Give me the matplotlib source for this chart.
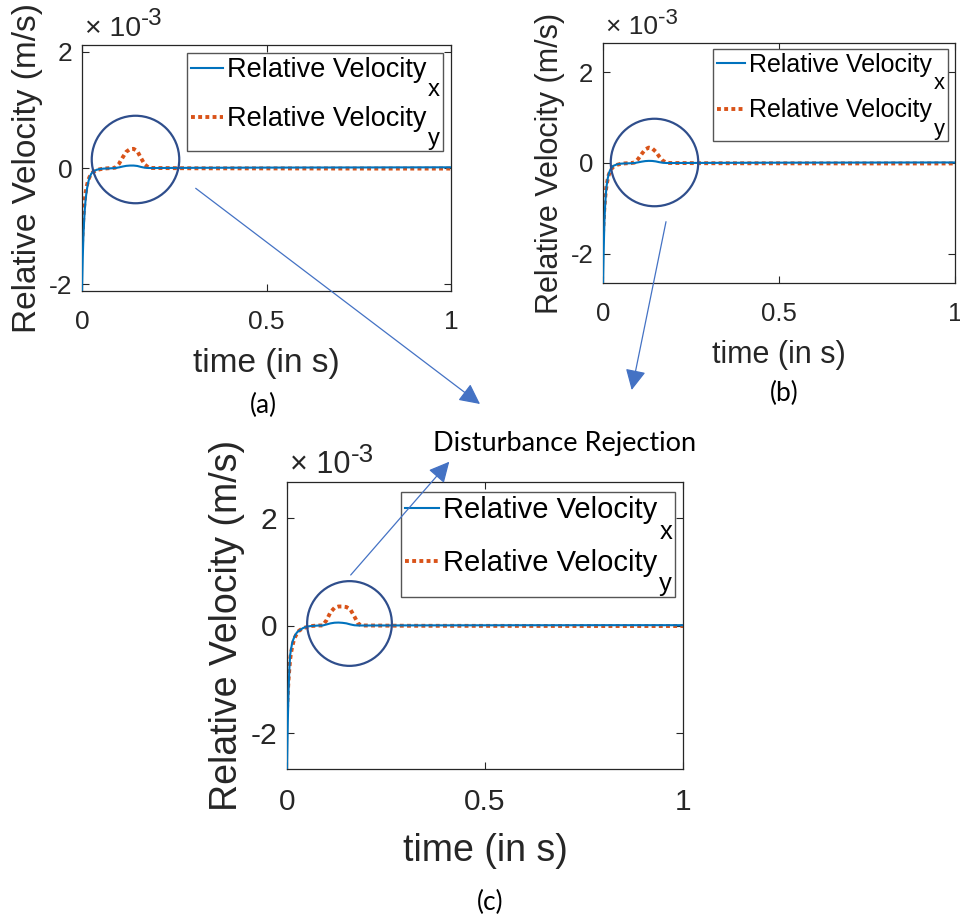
import matplotlib
matplotlib.use("Agg")
import matplotlib.pyplot as plt
from matplotlib.patches import FancyArrowPatch, Rectangle
from matplotlib.transforms import Bbox

plt.rcParams['font.family'] = ['Liberation Sans', 'DejaVu Sans']
plt.rcParams['axes.unicode_minus'] = False

# ---------------- data (velocity in units of 1e-3 m/s) ----------------
time_s = [0, 0.002, 0.004, 0.006, 0.008, 0.01, 0.013, 0.016, 0.02, 0.025, 0.03,
          0.04, 0.05, 0.06, 0.08, 0.09, 0.1, 0.11, 0.12, 0.13, 0.14, 0.15, 0.16,
          0.17, 0.18, 0.19, 0.2, 0.3, 0.4, 0.5, 0.6, 0.7, 0.8, 0.9, 1.0]

vx_a = [-2.10, -1.55, -1.15, -0.88, -0.68, -0.53, -0.38, -0.27, -0.17, -0.10, -0.06,
        -0.03, -0.015, -0.01, -0.005, 0.0, 0.01, 0.025, 0.037, 0.042, 0.042, 0.035, 0.018,
        0.005, 0.0, 0.0, 0.0, 0.003, 0.005, 0.007, 0.008, 0.009, 0.010, 0.011, 0.012]
vy_a = [-1.30, -1.05, -0.82, -0.65, -0.52, -0.42, -0.31, -0.23, -0.16, -0.10, -0.07,
        -0.035, -0.02, -0.01, 0.0, 0.005, 0.07, 0.18, 0.28, 0.325, 0.33, 0.29, 0.17,
        0.06, 0.01, 0.0, 0.0, -0.005, -0.006, -0.007, -0.008, -0.009, -0.01, -0.01, -0.01]

vx_b = [-2.65, -1.90, -1.30, -0.95, -0.70, -0.52, -0.36, -0.25, -0.16, -0.10, -0.06,
        -0.03, -0.015, -0.01, -0.005, 0.0, 0.015, 0.03, 0.042, 0.047, 0.045, 0.035, 0.018,
        0.005, 0.0, 0.0, 0.0, 0.003, 0.005, 0.007, 0.008, 0.009, 0.010, 0.011, 0.012]
vy_b = [-1.55, -1.25, -0.98, -0.78, -0.62, -0.50, -0.37, -0.27, -0.19, -0.12, -0.08,
        -0.04, -0.02, -0.01, 0.0, 0.01, 0.09, 0.20, 0.30, 0.34, 0.32, 0.25, 0.14,
        0.05, 0.01, 0.0, 0.0, -0.005, -0.006, -0.007, -0.008, -0.009, -0.01, -0.01, -0.01]

vx_c = [-2.68, -1.80, -1.20, -0.80, -0.55, -0.45, -0.33, -0.26, -0.19, -0.13, -0.10,
        -0.05, -0.02, -0.01, 0.0, 0.0, 0.02, 0.04, 0.052, 0.055, 0.05, 0.04, 0.02,
        0.005, 0.0, 0.0, 0.0, 0.002, 0.003, 0.004, 0.005, 0.005, 0.006, 0.006, 0.006]
vy_c = [-1.56, -1.25, -1.00, -0.80, -0.63, -0.52, -0.40, -0.31, -0.22, -0.15, -0.10,
        -0.05, -0.03, -0.01, 0.0, 0.0, 0.10, 0.25, 0.33, 0.355, 0.355, 0.345, 0.30,
        0.17, 0.03, 0.0, 0.0, -0.005, -0.006, -0.007, -0.008, -0.009, -0.01, -0.01, -0.01]

x_ticks = [0, 0.5, 1]
x_ticklabels = ['0', '0.5', '1']
y_ticks = [-2, 0, 2]
y_ticklabels = ['-2', '0', '2']
series_names = ['Relative Velocity', 'Relative Velocity']
series_subs = ['x', 'y']
x_label = 'time (in s)'
y_label = 'Relative Velocity (m/s)'
exp_base = '× 10'
exp_power = '-3'
captions = ['(a)', '(b)', '(c)']
callout = 'Disturbance Rejection'

BLUE = '#0072BD'
ORANGE = '#D95319'
DARK = '#262626'
CIRC = '#2F4E8C'
ARROW = '#4472C4'

W, H = 960, 924
fig = plt.figure(figsize=(W / 100, H / 100), dpi=100)


def fr(px, py):
    return px / W, 1 - py / H


panels = []


def make_panel(rect_px, vx, vy, ylim, fs_tick, fs_lab, fs_leg, fs_exp, circ, ms,
               leg_gap, xlab_pad, ylab_pad):
    l, t, r, b = rect_px
    w_px, h_px = r - l, b - t
    ax = fig.add_axes([l / W, 1 - b / H, w_px / W, h_px / H])
    ax.plot(time_s, vx, color=BLUE, lw=1.5, zorder=3, label=series_names[0])
    ax.plot(time_s, vy, color=ORANGE, lw=2.8, ls=(0, (1, 0.85)), zorder=2,
            label=series_names[1])
    ax.set_xlim(0, 1)
    ax.set_ylim(*ylim)
    ax.set_xticks(x_ticks)
    ax.set_xticklabels(x_ticklabels)
    ax.set_yticks(y_ticks)
    ax.set_yticklabels(y_ticklabels)
    ax.tick_params(direction='in', top=True, right=True, length=5, width=0.8,
                   labelsize=fs_tick, colors=DARK)
    ax.tick_params(axis='x', pad=14)
    ax.tick_params(axis='y', pad=7)
    for s in ax.spines.values():
        s.set_color(DARK)
        s.set_linewidth(0.9)
    ax.set_xlabel(x_label, fontsize=fs_lab, color=DARK, labelpad=xlab_pad)
    ax.set_ylabel(y_label, fontsize=fs_lab, color=DARK, labelpad=ylab_pad)
    # exponent label (MATLAB style)
    t1 = ax.text(3 / w_px, 1 + 9 / h_px, exp_base, transform=ax.transAxes,
                 fontsize=fs_exp, color=DARK, ha='left', va='baseline')
    ax.annotate(exp_power, xy=(1, 0), xycoords=t1, xytext=(0.0, 0.58 * fs_exp),
                textcoords='offset points', fontsize=0.85 * fs_exp, color=DARK,
                ha='left', va='baseline', annotation_clip=False)
    # legend (subscripts placed after each entry, frame drawn around everything)
    sub_fs = 0.88 * fs_leg
    sub_w_px = 0.5 * sub_fs * 100 / 72 + 2
    leg = ax.legend(loc='upper right',
                    bbox_to_anchor=(1 - (leg_gap[0] + sub_w_px) / w_px,
                                    1 - leg_gap[1] / h_px),
                    fontsize=fs_leg, frameon=False, handlelength=1.15,
                    handletextpad=0.15, borderaxespad=0, borderpad=0,
                    labelspacing=0.85)
    leg.set_zorder(6)
    subs = []
    for txt, sub in zip(leg.get_texts(), series_subs):
        txt.set_color('black')
        a = ax.annotate(sub, xy=(1, 0), xycoords=txt, xytext=(1.5, 0.15 * fs_leg),
                        textcoords='offset points', fontsize=sub_fs,
                        color='black', ha='left', va='top', zorder=7,
                        annotation_clip=False)
        subs.append(a)
    ax.plot([circ[0]], [circ[1]], marker='o', ms=ms, mfc='none', mec=CIRC, mew=1.6,
            clip_on=False, zorder=8)
    panels.append((ax, leg, subs))
    return ax


make_panel((82, 45, 451, 291), vx_a, vy_a, (-2.12, 2.12),
           19, 24, 19.5, 20.5, (0.144, 0.155), 63, (11, 12), 10, 4)
make_panel((603, 43, 955, 283), vx_b, vy_b, (-2.65, 2.65),
           18.5, 22, 18, 19, (0.145, 0.03), 63, (10, 10), 10, 4)
make_panel((287, 482, 683, 769), vx_c, vy_c, (-2.68, 2.68),
           21.5, 27, 21, 22, (0.157, 0.04), 61, (11, 14), 12, 4)

cap_font = ['Lato', 'DejaVu Sans']
fig.text(*fr(263, 405), captions[0], fontsize=19, family=cap_font, ha='center', va='center')
fig.text(*fr(784, 393), captions[1], fontsize=19, family=cap_font, ha='center', va='center')
fig.text(*fr(490, 902), captions[2], fontsize=19, family=cap_font, ha='center', va='center')
fig.text(*fr(433, 443), callout, fontsize=19.5, family=cap_font, ha='left', va='center')

for p0, p1 in [((195.7, 188.3), (480, 404)), ((666, 221.7), (631.7, 390)),
               ((350.7, 575), (449.3, 461.7))]:
    arr = FancyArrowPatch(fr(*p0), fr(*p1), transform=fig.transFigure,
                          arrowstyle='-|>,head_length=0.9,head_width=0.45',
                          mutation_scale=14, color=ARROW, lw=0.9, shrinkA=0, shrinkB=0)
    fig.add_artist(arr)

# legend frames drawn around the laid-out legend content (incl. subscripts)
fig.canvas.draw()
renderer = fig.canvas.get_renderer()
for ax, leg, subs in panels:
    boxes = [leg.get_window_extent(renderer)] + [s.get_window_extent(renderer) for s in subs]
    bb = Bbox.union(boxes)
    x0, y0, x1, y1 = bb.x0 - 4, bb.y0 - 1, bb.x1 + 3, bb.y1 + 4
    (fx0, fy0), (fx1, fy1) = fig.transFigure.inverted().transform([(x0, y0), (x1, y1)])
    rect = Rectangle((fx0, fy0), fx1 - fx0, fy1 - fy0, transform=fig.transFigure,
                     facecolor='white', edgecolor='#555555', lw=1.0, zorder=5.5,
                     clip_on=False)
    ax.add_patch(rect)

fig.savefig('out.png', dpi=100)
